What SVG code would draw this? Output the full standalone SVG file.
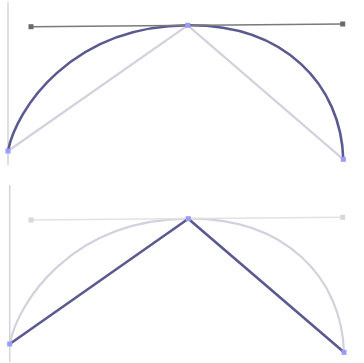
<svg xmlns="http://www.w3.org/2000/svg" width="364" height="363" viewBox="0 0 364 363">
<style>
.axis{stroke:#d4d4d4;stroke-width:1.5;fill:none}
.dark{stroke:#5a5a90;stroke-width:2.6;fill:none;stroke-linecap:round;stroke-linejoin:round}
.light{stroke:#d2d2de;stroke-width:2.2;fill:none}
.handle{stroke:#7a7a7a;stroke-width:1.4;fill:none}
.handleLight{stroke:#e2e2e2;stroke-width:1.6;fill:none}
.hsq{fill:#6a6a6a}
.hsqLight{fill:#d8d8d8}
.pt{fill:#9a9aff}
</style>
<rect width="364" height="363" fill="#ffffff"/>
<g id="top">
  <line class="axis" x1="8" y1="2" x2="8" y2="165"/>
  <g id="connectors-top">
    <polyline class="light" points="8,151 187.7,25.3 343.3,159.3"/>
    <path class="dark" d="M8,151 C16,110 70,26.3 187.7,25.3 C285,24.4 341,85 343.3,159.3"/>
    <line class="handle" x1="31" y1="26.7" x2="342.7" y2="24"/>
  </g>
  <g id="top-handle-left"><rect class="hsq" x="28.5" y="24.2" width="5" height="5"/></g>
  <g id="top-handle-right"><rect class="hsq" x="340.2" y="21.5" width="5" height="5"/></g>
  <g id="top-point-mid"><rect class="pt" x="185.2" y="22.8" width="5" height="5"/></g>
  <g id="top-point-left"><rect class="pt" x="5.5" y="148.5" width="5" height="5"/></g>
  <g id="top-point-right"><rect class="pt" x="340.8" y="156.8" width="5" height="5"/></g>
</g>
<g id="bottom">
  <line class="axis" x1="9.7" y1="185" x2="9.7" y2="362"/>
  <g id="connectors-bottom">
    <path class="light" d="M9.7,344 C17.7,303 70.6,219.7 188.3,218.7 C285.6,217.8 341.7,278 344,352.3"/>
    <line class="handleLight" x1="31" y1="220" x2="342.7" y2="217.3"/>
    <polyline class="dark" points="9.7,344 188.3,218.7 344,352.3"/>
  </g>
  <g id="bottom-handle-left"><rect class="hsqLight" x="28.5" y="217.5" width="5" height="5"/></g>
  <g id="bottom-handle-right"><rect class="hsqLight" x="340.2" y="214.8" width="5" height="5"/></g>
  <g id="bottom-point-mid"><rect class="pt" x="185.8" y="216.2" width="5" height="5"/></g>
  <g id="bottom-point-left"><rect class="pt" x="7.2" y="341.5" width="5" height="5"/></g>
  <g id="bottom-point-right"><rect class="pt" x="341.5" y="349.8" width="5" height="5"/></g>
</g>
</svg>
